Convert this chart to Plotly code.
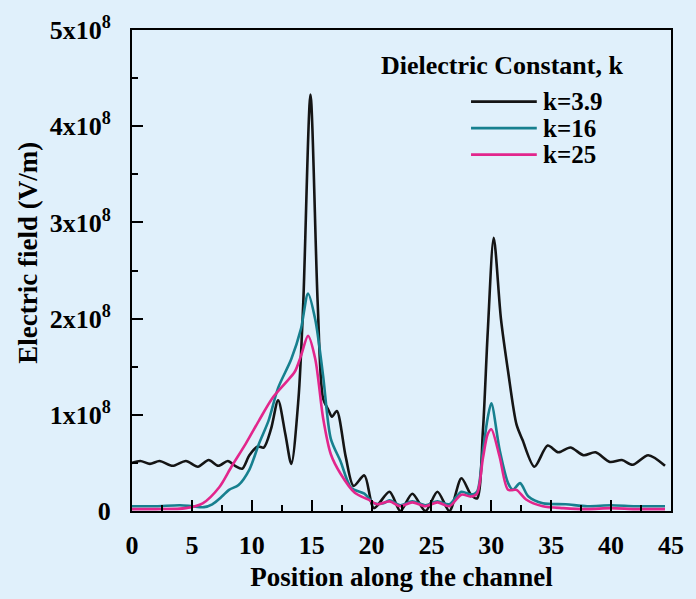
import numpy as np
import plotly.graph_objects as go

# ---- data (field values in units of 1e8 V/m) ----
x_k39 = [0, 0.7, 1.5, 2.3, 3.4, 4.5, 5.5, 6.4, 7.2, 8.0, 8.6, 9.2, 9.8, 10.5, 11.0, 11.6,
         12.2, 12.8, 13.3, 13.9, 14.3, 14.9, 15.5, 15.95, 16.4, 16.7, 17.1, 17.85, 18.5,
         19.4, 20.2, 21.5, 22.4, 23.4, 24.5, 25.5, 26.5, 27.5, 28.3, 28.8, 29.3, 29.7,
         30.2, 30.8, 31.4, 32.1, 32.6, 33.6, 34.7, 35.6, 36.6, 37.7, 38.7, 39.9, 40.9,
         41.8, 43.1, 44.5]
e_k39 = [0.50, 0.52, 0.49, 0.52, 0.47, 0.52, 0.46, 0.53, 0.47, 0.52, 0.47, 0.44, 0.58,
         0.67, 0.66, 0.85, 1.15, 0.80, 0.49, 1.17, 2.17, 4.33, 2.17, 1.17, 1.05, 0.98,
         1.04, 0.56, 0.26, 0.37, 0.03, 0.20, 0.00, 0.18, 0.00, 0.20, 0.00, 0.34, 0.17,
         0.13, 0.84, 1.86, 2.84, 2.00, 1.45, 0.90, 0.74, 0.46, 0.68, 0.61, 0.66, 0.58,
         0.61, 0.51, 0.53, 0.48, 0.58, 0.47]

x_k16 = [0, 2, 4, 5, 6, 6.7, 7.5, 8.1, 8.9, 9.8, 10.6, 11.4, 12.2, 13.3, 14.1, 14.7,
         15.3, 15.95, 16.6, 17.4, 18.3, 19.4, 20.2, 21.0, 21.5, 22.4, 23.4, 24.5, 25.5,
         26.5, 27.5, 28.3, 28.8, 29.3, 29.7, 30.0, 30.7, 31.4, 31.8, 32.4, 33.1, 34.3,
         36.2, 38, 40, 42, 44.5]
e_k16 = [0.05, 0.05, 0.06, 0.05, 0.04, 0.07, 0.15, 0.22, 0.27, 0.43, 0.70, 0.94, 1.28,
         1.58, 1.89, 2.26, 1.99, 1.41, 0.75, 0.52, 0.24, 0.18, 0.08, 0.08, 0.11, 0.06,
         0.10, 0.06, 0.10, 0.07, 0.20, 0.17, 0.20, 0.63, 0.97, 1.12, 0.63, 0.29, 0.22,
         0.29, 0.15, 0.08, 0.07, 0.05, 0.06, 0.05, 0.05]

x_k25 = [0, 2, 4.5, 5.9, 7.3, 8.3, 9.5, 10.6, 11.7, 12.8, 13.6, 14.1, 14.7, 15.3, 15.95,
         16.6, 17.4, 18.6, 19.7, 20.5, 21.5, 22.4, 23.4, 24.5, 25.5, 26.5, 27.5, 28.3,
         28.8, 29.3, 29.7, 30.0, 30.7, 31.4, 32.1, 32.9, 34.3, 36, 38, 40, 42, 44.5]
e_k25 = [0.02, 0.02, 0.03, 0.08, 0.25, 0.46, 0.70, 0.94, 1.17, 1.33, 1.45, 1.61, 1.82,
         1.58, 0.97, 0.59, 0.39, 0.19, 0.12, 0.07, 0.10, 0.05, 0.09, 0.05, 0.09, 0.05,
         0.17, 0.15, 0.18, 0.55, 0.80, 0.85, 0.56, 0.22, 0.22, 0.12, 0.05, 0.03, 0.02,
         0.03, 0.02, 0.02]

series_names = ["k=3.9", "k=16", "k=25"]
series_colors = ["#151515", "#17808f", "#e2268c"]

x_ticks = [0, 5, 10, 15, 20, 25, 30, 35, 40, 45]
y_tick_vals = [0, 1e8, 2e8, 3e8, 4e8, 5e8]
y_tick_text = ["0", "1x10<sup>8</sup>", "2x10<sup>8</sup>", "3x10<sup>8</sup>",
               "4x10<sup>8</sup>", "5x10<sup>8</sup>"]

SCALE = 1e8
FONT = "Liberation Serif"
BG = "#e0f0fb"

fig = go.Figure()
for xs, es, name, col in zip([x_k39, x_k16, x_k25], [e_k39, e_k16, e_k25],
                             series_names, series_colors):
    fig.add_trace(go.Scatter(x=xs, y=np.array(es) * SCALE, name=name, mode="lines",
                             line=dict(color=col, width=2.6, shape="spline", smoothing=0.8),
                             showlegend=False))

axis_common = dict(showline=True, linecolor="black", linewidth=2, mirror=True,
                   ticks="inside", ticklen=11, tickwidth=1.5, tickcolor="black",
                   showgrid=False, zeroline=False,
                   tickfont=dict(family=FONT, size=26, color="black"))

fig.update_xaxes(range=[0, 45], tickvals=x_ticks, ticklabelstandoff=10,
                 ticktext=["<b>%d</b>" % v for v in x_ticks],
                 minor=dict(ticks="inside", ticklen=6, dtick=2.5, tickcolor="black", tickwidth=1.5),
                 title=dict(text="<b>Position along the channel</b>",
                            font=dict(family=FONT, size=27, color="black"), standoff=8),
                 **axis_common)
fig.update_yaxes(range=[0, 5e8], tickvals=y_tick_vals,
                 ticktext=["<b>%s</b>" % t for t in y_tick_text], ticklabelstandoff=14,
                 minor=dict(ticks="inside", ticklen=6, dtick=0.5e8, tickcolor="black", tickwidth=1.5),
                 **axis_common)

# y-axis title
fig.add_annotation(text="<b>Electric field (V/m)</b>", textangle=-90, xref="paper", yref="paper",
                   x=-0.192, y=0.536, xanchor="center", yanchor="middle", showarrow=False,
                   font=dict(family=FONT, size=27, color="black"))

# legend (drawn manually to match line sample length)
fig.add_annotation(text="<b>Dielectric Constant, k</b>", xref="paper", yref="paper",
                   x=0.459, y=0.927, xanchor="left", yanchor="middle", showarrow=False,
                   font=dict(family=FONT, size=26, color="black"))
leg_rows = [0.851, 0.796, 0.741]
for name, col, yy in zip(series_names, series_colors, leg_rows):
    fig.add_shape(type="line", xref="paper", yref="paper", x0=0.629, x1=0.751, y0=yy, y1=yy,
                  line=dict(color=col, width=2.6))
    fig.add_annotation(text="<b>%s</b>" % name, xref="paper", yref="paper", x=0.758, y=yy,
                       xanchor="left", yanchor="middle", showarrow=False,
                       font=dict(family=FONT, size=25, color="black"))

fig.update_layout(width=696, height=599, margin=dict(l=132, r=17, t=21, b=84),
                  paper_bgcolor=BG, plot_bgcolor=BG, showlegend=False)

fig.write_html("out.html")
